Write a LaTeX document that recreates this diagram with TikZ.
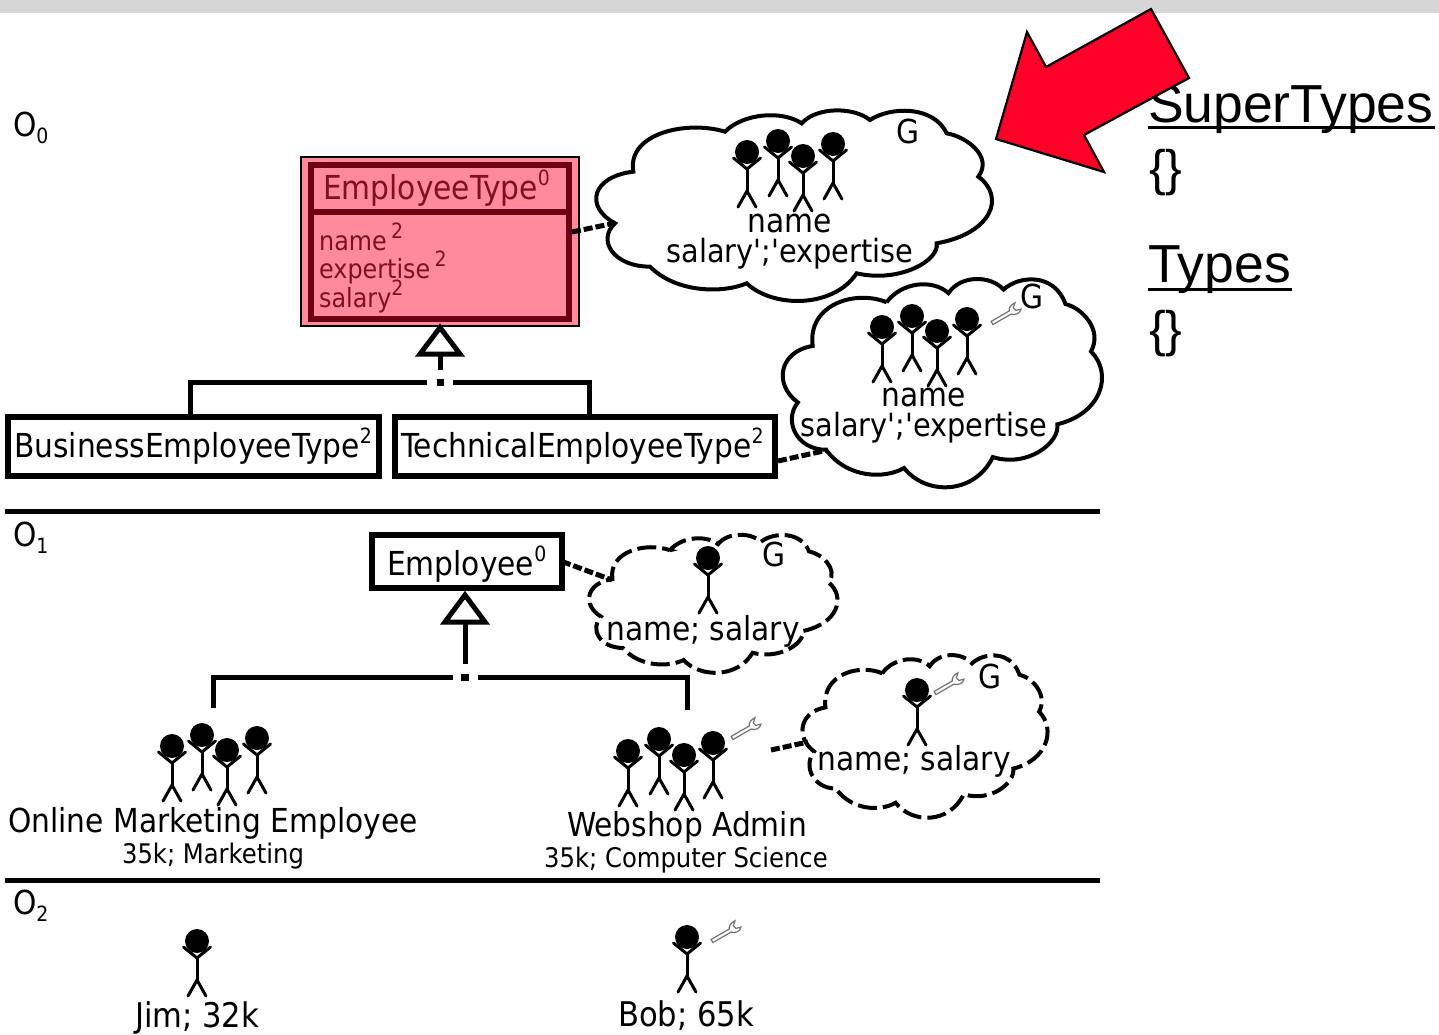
\documentclass[tikz,border=0pt]{standalone}
\usepackage{fontspec}
\setmainfont{DejaVu Sans Condensed}
\newfontfamily\rawfont{DejaVu Sans Condensed}
\newfontfamily\arialfont{Liberation Sans}
\definecolor{pinkfill}{HTML}{FF8A9B}
\definecolor{darkred}{HTML}{6E0014}
\definecolor{redtext}{HTML}{7E1024}
\definecolor{arrowred}{HTML}{FF0029}
\definecolor{topgray}{HTML}{D6D6D6}
\newcommand{\fsz}[1]{\fontsize{#1}{#1}\selectfont}
\newcommand{\sups}[1]{\smash{\raisebox{0.42em}{\fontsize{21}{21}\selectfont #1}}}
\newcommand{\subs}[1]{\raisebox{-0.22em}{\fontsize{21}{21}\selectfont #1}}
\newcommand{\cloudat}[5]{%
  \draw[#5,shift={(#1,#2)},xscale=#3,yscale=#4]
  (405,125) .. controls (460,70) and (575,60) .. (635,100)
  .. controls (680,50) and (790,50) .. (840,90)
  .. controls (900,50) and (1030,45) .. (1070,130)
  .. controls (1130,140) and (1210,200) .. (1165,260)
  .. controls (1247,320) and (1207,430) .. (1040,460)
  .. controls (1050,510) and (930,580) .. (800,550)
  .. controls (730,655) and (550,655) .. (470,580)
  .. controls (400,610) and (260,610) .. (180,530)
  .. controls (70,530) and (20,450) .. (75,400)
  .. controls (-17,350) and (5,260) .. (130,245)
  .. controls (110,130) and (290,90) .. cycle;}
\tikzset{
  x=1pt,y=-1pt,
  person/.pic={
    \fill[black] (0,0) circle[radius=12];
    \draw[line width=3,line cap=round] (-13.5,6) -- (0,17) -- (13.5,6);
    \draw[line width=3,line cap=round] (0,17) -- (0,39);
    \draw[line width=3,line cap=round] (-9,55) -- (0,39) -- (9,55);
  },
  wrenchicon/.pic={
    \draw[black!55,fill=white,line width=1.2,rotate=30]
      (0,-1.8) -- (21,-1.8) .. controls (22,-5) and (26,-6.5) .. (30,-6)
      -- (26,-2.5) -- (27,1) -- (32,2.5) .. controls (29,6) and (24,5) .. (21,1.8)
      -- (0,1.8) -- cycle;
  },
  solidcloud/.style={draw=black,line width=4,fill=white},
  dashcloud/.style={draw=black,line width=4,fill=white,dash pattern=on 19pt off 6pt},
  classbox/.style={draw=black,line width=6,fill=white,minimum height=59,inner sep=0pt,outer sep=0pt,text=black},
  thick line/.style={line width=5},
  linkline/.style={line width=5,dash pattern=on 9pt off 3pt},
  plain/.style={inner sep=0pt,outer sep=0pt,font=\fsz{33},text=black},
  small/.style={inner sep=0pt,outer sep=0pt,font=\fsz{27},text=black},
  genhead/.style={draw=black,line width=5,fill=white,line join=miter},
  headline/.style={inner sep=0pt,outer sep=0pt,font=\arialfont\fsz{53.5},text=black,anchor=base west},
  layerlabel/.style={inner sep=0pt,outer sep=0pt,font=\fsz{33},text=black,anchor=base west},
  attr/.style={inner sep=0pt,font=\fsz{26.5},text=redtext,anchor=base west},
}
\begin{document}
\begin{tikzpicture}[x=1pt,y=-1pt]
\useasboundingbox (0,0) rectangle (1439,1034);
\fill[white] (0,0) rectangle (1439,1034);
\fill[topgray] (0,0) rectangle (1439,13);

% layers
\coordinate (l1a) at (5,511); \coordinate (l1b) at (1100,511);
\coordinate (l2a) at (5,880); \coordinate (l2b) at (1100,880);
\draw[thick line] (l1a) -- (l1b);
\draw[thick line] (l2a) -- (l2b);
\node[layerlabel] (o0) at (13,136) {O\subs{0}};
\node[layerlabel] (o1) at (13,546) {O\subs{1}};
\node[layerlabel] (o2) at (13,914) {O\subs{2}};

% clouds
\cloudat{590}{90}{0.3333}{0.3333}{solidcloud}
\cloudat{777.7}{256.7}{0.2689}{0.3643}{solidcloud}
\cloudat{585.2}{520}{0.2092}{0.2414}{dashcloud}
\cloudat{798.6}{637.7}{0.2064}{0.2845}{dashcloud}
\coordinate (c1a) at (615,223);
\coordinate (c2a) at (828,450);
\coordinate (c3a) at (612,580);
\coordinate (c4a) at (808,742);

% EmployeeType
\fill[pinkfill] (300,156) rectangle (580,327);
\draw[black,line width=2.5] (301,157) rectangle (579,326);
\node[draw=darkred,line width=6,outer sep=0pt,minimum width=258,minimum height=154,inner sep=0pt,anchor=north west] (et) at (311,165) {};
\draw[darkred,line width=6] (et.west |- 0,212) -- (et.east |- 0,212);
\node[inner sep=0pt,font=\fsz{33},text=redtext,anchor=base west] (etn) at (323,199) {EmployeeType\sups{0}};
\node[attr] (a1) at (319,250) {name\,\sups{2}};
\node[attr] (a2) at (319,278) {expertise\,\sups{2}};
\node[attr] (a3) at (319,307) {salary\sups{2}};

% Type boxes
\node[classbox,minimum width=371,anchor=north west] (bet) at (8,417) {};
\node[classbox,minimum width=380,anchor=north west] (tet) at (395,417) {};
\node[inner sep=0pt,font=\fsz{33},anchor=base west] (betn) at (14,457) {BusinessEmployeeType\sups{2}};
\node[inner sep=0pt,font=\fsz{33},anchor=base west] (tetn) at (401,457) {TechnicalEmployeeType\sups{2}};
\node[classbox,minimum width=190,minimum height=53,anchor=north west] (emp) at (372,535) {};
\node[inner sep=0pt,font=\fsz{33},anchor=base west] (empn) at (387,575) {Employee\sups{0}};

% generalisation 0
\coordinate (g0) at (440,382);
\coordinate (g0t) at (440,355);
\coordinate (g0l) at (427,382);
\coordinate (g0r) at (453,382);
\draw[genhead] (440,327.5) -- (460,354) -- (420,354) -- cycle;
\draw[line width=5] (g0t) -- (440,370);
\draw[line width=7] (436.5,382) -- (443.5,382);
\draw[line width=5] ([xshift=-3.5]bet.north) |- (g0l);
\draw[line width=5] ([xshift=4]tet.north) |- (g0r);

% generalisation 1
\coordinate (g1t) at (465,623);
\coordinate (g1l) at (453,677);
\coordinate (g1r) at (478,677);
\coordinate (onl) at (213,708);
\coordinate (web) at (687,710);
\draw[genhead] (465,595) -- (485,622) -- (445,622) -- cycle;
\draw[line width=5] (g1t) -- (465,664);
\draw[line width=7] (461,677) -- (469,677);
\draw[line width=5] (onl) |- (g1l);
\draw[line width=5] (web) |- (g1r);

% links
\draw[linkline] (572,232) -- (c1a);
\draw[linkline] (778,461) -- (c2a);
\draw[linkline] (emp.east) -- (c3a);
\coordinate (webend) at (771,750);
\draw[linkline] (webend) -- (c4a);

% people
\foreach \p in {(747,152),(778,141),(803,156),(833,144),
                (882,327),(912,316),(937,331),(967,319),
                (708,558),(917,690),
                (628,751),(659,739),(684,755),(713,743),
                (172,746),(202,735),(227,750),(257,738),
                (197,941),(687,937)}
  \pic at \p {person};
\pic at (992,323) {wrenchicon};
\pic at (732,738) {wrenchicon};
\pic at (935,693) {wrenchicon};
\pic at (712,941) {wrenchicon};

% cloud text
\node[plain,anchor=base] (n1) at (790,232) {name};
\node[plain,anchor=base,font=\fsz{32}] (s1) at (790,262) {\rawfont salary';'expertise};
\node[plain,anchor=base] (g1) at (908,143) {G};
\node[plain,anchor=base] (n2) at (924,406) {name};
\node[plain,anchor=base,font=\fsz{32}] (s2) at (924,436) {\rawfont salary';'expertise};
\node[plain,anchor=base] (g2) at (1032,308) {G};
\node[plain,anchor=base] (s3) at (703,640) {name; salary};
\node[plain,anchor=base] (g3) at (774,566) {G};
\node[plain,anchor=base] (s4) at (914,770) {name; salary};
\node[plain,anchor=base] (g4) at (990,688) {G};

% instance text
\node[plain,anchor=base] (om) at (213,832) {Online Marketing Employee};
\node[small,anchor=base] (om2) at (213,863) {35k; Marketing};
\node[plain,anchor=base] (wa) at (687,836) {Webshop Admin};
\node[small,anchor=base] (wa2) at (686,867) {35k; Computer Science};
\node[plain,anchor=base,font=\fsz{34}] (jim) at (197,1027) {Jim; 32k};
\node[plain,anchor=base,font=\fsz{34}] (bob) at (686,1026) {Bob; 65k};

% right panel
\node[headline] (st) at (1148,122) {SuperTypes};
\draw[line width=3] (1148,127.5) -- (1435,127.5);
\node[headline,font=\arialfont\fsz{50}] (br1) at (1149,185) {\{\}};
\node[headline] (ty) at (1148,282) {Types};
\draw[line width=3] (1148,289) -- (1292,289);
\node[headline,font=\arialfont\fsz{50}] (br2) at (1149,346) {\{\}};

% arrow
\draw[line width=2.2,fill=arrowred,line join=miter]
  (1151,9) -- (1189,78) -- (1084,135) -- (1104,172) -- (996,139) -- (1027,32) -- (1046,67) -- cycle;
\end{tikzpicture}
\end{document}
